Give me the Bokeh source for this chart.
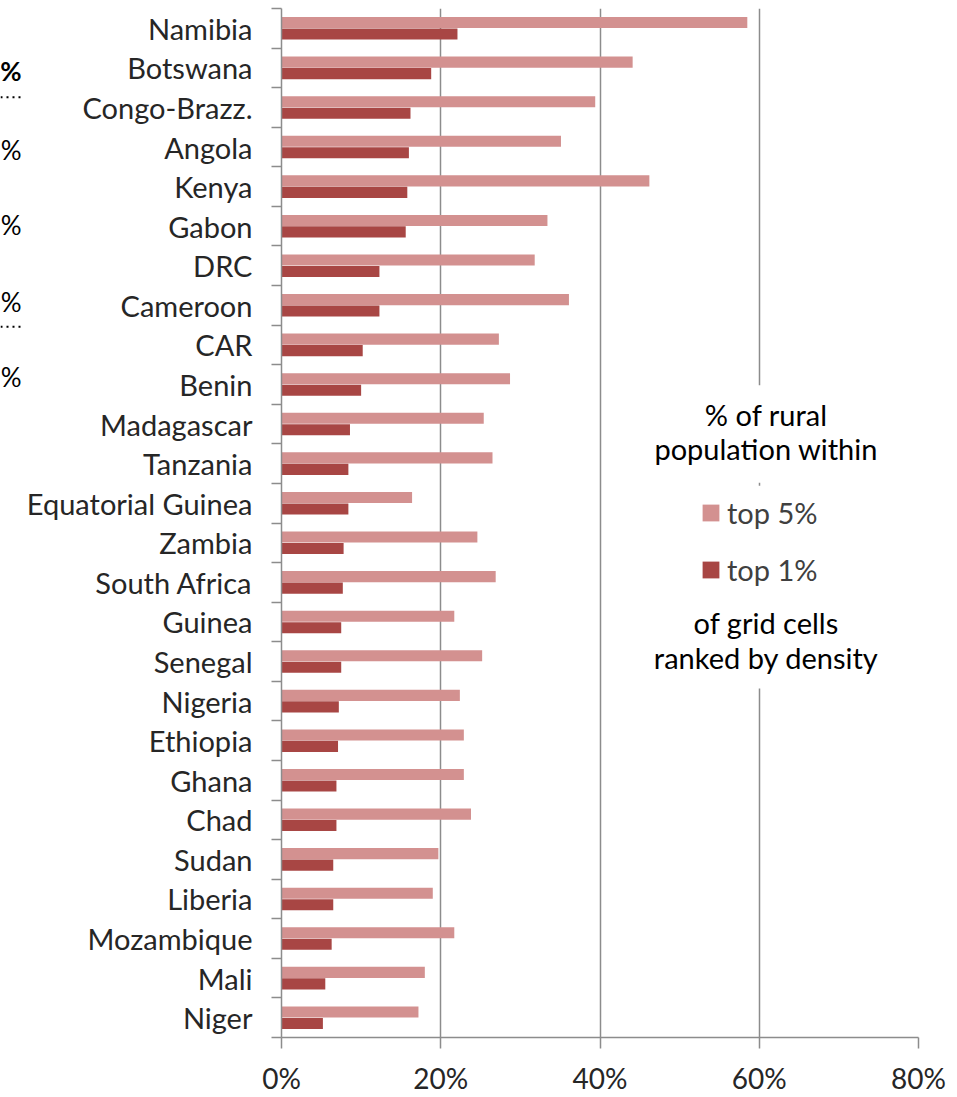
from bokeh.plotting import figure
from bokeh.layouts import row
from bokeh.models import (Range1d, FixedTicker, PrintfTickFormatter, Legend, LegendItem,
                          Label, BoxAnnotation, Span, ColumnDataSource)
from bokeh.embed import file_html
from bokeh.resources import INLINE

# Share of rural population living in the densest grid cells, by country
countries = ["Namibia", "Botswana", "Congo-Brazz.", "Angola", "Kenya", "Gabon", "DRC",
             "Cameroon", "CAR", "Benin", "Madagascar", "Tanzania", "Equatorial Guinea",
             "Zambia", "South Africa", "Guinea", "Senegal", "Nigeria", "Ethiopia", "Ghana",
             "Chad", "Sudan", "Liberia", "Mozambique", "Mali", "Niger"]
top5 = [58.5, 44.1, 39.4, 35.1, 46.2, 33.4, 31.8, 36.1, 27.3, 28.7, 25.4, 26.5, 16.4,
        24.6, 26.9, 21.7, 25.2, 22.4, 22.9, 22.9, 23.8, 19.7, 19.0, 21.7, 18.0, 17.2]
top1 = [22.1, 18.8, 16.2, 16.0, 15.8, 15.6, 12.3, 12.3, 10.2, 10.0, 8.6, 8.4, 8.4,
        7.8, 7.7, 7.5, 7.5, 7.2, 7.1, 6.9, 6.9, 6.5, 6.5, 6.3, 5.5, 5.2]
x_ticks = [0, 20, 40, 60, 80]

LIGHT = "#D39190"
DARK = "#A84644"
GRAY = "#8C8C8C"
FONT = "Lato"

n = len(countries)
centers = [n - i - 0.5 for i in range(n)]          # first country on top
src = ColumnDataSource(dict(
    country=countries, top5=top5, top1=top1,
    y5=[c + 0.145 for c in centers],
    y1=[c - 0.145 for c in centers],
))

LEFT_W = 22
y_range = Range1d(0, n)

p = figure(width=957 - LEFT_W, height=1097, x_range=Range1d(0, 80), y_range=y_range,
           output_backend="svg", toolbar_location=None,
           min_border_left=281 - LEFT_W, min_border_right=39,
           min_border_top=8, min_border_bottom=54)
p.outline_line_color = None
p.background_fill_color = "white"
p.border_fill_color = "white"

# x axis: percentages
xa = p.xaxis[0]
xa.ticker = FixedTicker(ticks=x_ticks)
xa.formatter = PrintfTickFormatter(format="%d%%")
xa.axis_line_color = GRAY
xa.axis_line_width = 1.5
xa.major_tick_line_color = GRAY
xa.major_tick_line_width = 1.5
xa.major_tick_out = 11
xa.major_tick_in = 0
xa.minor_tick_line_color = None
xa.major_label_text_font = FONT
xa.major_label_text_font_size = "28px"
xa.major_label_text_color = "#262626"
xa.major_label_standoff = 12

# y axis: country names centred in each band, ticks on band boundaries
ya = p.yaxis[0]
ya.ticker = FixedTicker(ticks=centers, minor_ticks=list(range(n + 1)))
ya.major_label_overrides = {c: name for c, name in zip(centers, countries)}
ya.major_tick_line_color = None
ya.major_tick_out = 0
ya.major_tick_in = 0
ya.minor_tick_line_color = GRAY
ya.minor_tick_line_width = 1.5
ya.minor_tick_out = 10
ya.minor_tick_in = 0
ya.axis_line_color = GRAY
ya.axis_line_width = 1.5
ya.major_label_text_font = FONT
ya.major_label_text_font_size = "29px"
ya.major_label_text_color = "#262626"
ya.major_label_standoff = 19

p.xgrid.ticker = FixedTicker(ticks=x_ticks)
p.xgrid.grid_line_color = GRAY
p.xgrid.grid_line_width = 1.5
p.ygrid.visible = False

r5 = p.hbar(y="y5", left=0, right="top5", height=0.28, source=src,
            fill_color=LIGHT, line_color=None)
r1 = p.hbar(y="y1", left=0, right="top1", height=0.28, source=src,
            fill_color=DARK, line_color=None)

# white panel behind the legend text
p.add_layout(BoxAnnotation(left=45, right=76.5, bottom=14.02, top=16.48,
                           fill_color="white", fill_alpha=1, line_color=None))
p.add_layout(BoxAnnotation(left=45, right=76.5, bottom=8.82, top=13.94,
                           fill_color="white", fill_alpha=1, line_color=None))

for txt, yb in [("% of rural", 15.75), ("population within", 14.87),
                ("of grid cells", 10.49), ("ranked by density", 9.60)]:
    p.add_layout(Label(x=60.87, y=yb, text=txt, text_align="center",
                       text_baseline="alphabetic", text_font=FONT,
                       text_font_size="29px", text_color="black"))

legend = Legend(items=[LegendItem(label="top 5%", renderers=[r5]),
                       LegendItem(label="top 1%", renderers=[r1])],
                location=(419, 450), orientation="vertical",
                glyph_width=21, glyph_height=21, label_standoff=6, spacing=22,
                padding=0, margin=0, border_line_color=None, background_fill_alpha=0,
                label_text_font=FONT, label_text_font_size="29px",
                label_text_color="#404040")
p.add_layout(legend)

# narrow strip on the left with the edge of the neighbouring panel
side = figure(width=LEFT_W, height=1097, x_range=Range1d(0, LEFT_W), y_range=y_range,
              output_backend="svg", toolbar_location=None,
              x_axis_location=None, y_axis_location=None,
              min_border_left=0, min_border_right=0, min_border_top=8, min_border_bottom=54)
side.outline_line_color = None
side.xgrid.visible = False
side.ygrid.visible = False
side.background_fill_color = "white"
side.border_fill_color = "white"
for yb, style in [(24.41, "bold"), (22.43, "normal"), (20.52, "normal"),
                  (18.59, "normal"), (16.70, "normal")]:
    side.add_layout(Label(x=LEFT_W - 1, y=yb, text="%", text_align="right",
                          text_baseline="alphabetic", text_font=FONT,
                          text_font_size="26px", text_font_style=style,
                          text_color="black"))
for yl in [23.76, 17.96]:
    side.add_layout(Span(location=yl, dimension="width", line_color="black",
                         line_width=2, line_dash="dotted"))

open("out.html", "w").write(file_html(row(side, p), INLINE))
